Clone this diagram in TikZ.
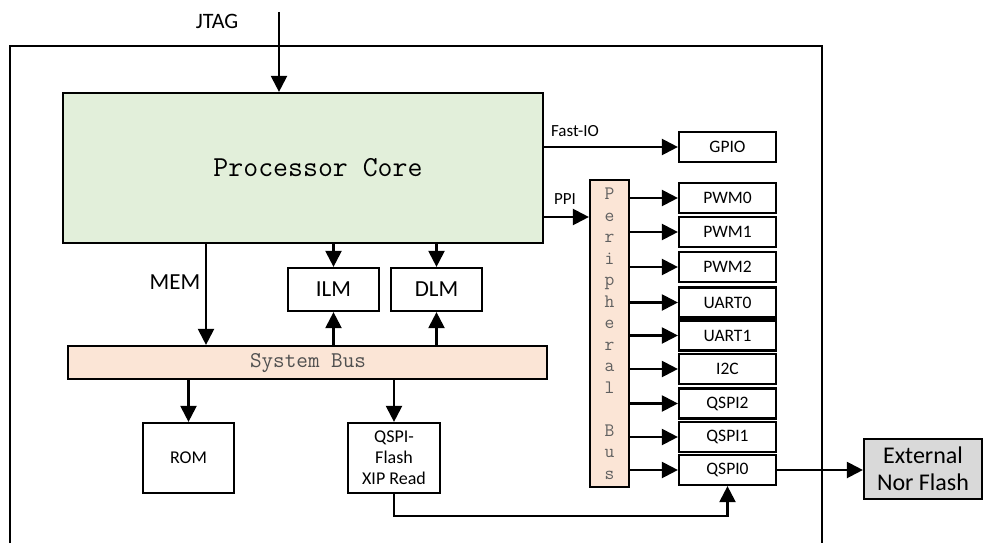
\documentclass[tikz,border=0pt]{standalone}
\usepackage{fontspec}
\setmainfont{Carlito}
\usetikzlibrary{arrows.meta}
\definecolor{coregreen}{HTML}{E2EFDA}
\definecolor{busorange}{HTML}{FBE5D6}
\definecolor{flashgray}{HTML}{D9D9D9}
\definecolor{bustext}{HTML}{505050}
\definecolor{pbtextc}{HTML}{606060}
\begin{document}
\begin{tikzpicture}[x=1pt,y=-1pt,
  box/.style={draw, line width=2.2pt, inner sep=0pt, align=center, font=\fontsize{17.5}{20}\selectfont},
  pbox/.style={box, minimum width=97pt, minimum height=30pt},
  arr/.style={-{Triangle[length=16pt,width=16pt]}, line width=2.2pt},
  lbl/.style={inner sep=0pt, font=\fontsize{17}{19}\selectfont},
  biglbl/.style={inner sep=0pt, font=\fontsize{23}{26}\selectfont}]
\useasboundingbox (0,0) rectangle (984,543);
% outer frame
\draw[line width=2.2pt] (10,543) -- (10,46) -- (822,46) -- (822,543);
% core
\node[box, fill=coregreen, minimum width=480pt, minimum height=150pt] (core) at (303,168) {};
\node[inner sep=0pt, font=\ttfamily\fontsize{29}{32}\selectfont] (coretext) at (318,168) {Processor Core};
% JTAG
\coordinate (jtagtop) at (279,12);
\node[inner sep=0pt, font=\fontsize{22}{24}\selectfont] (jtag) at (217,21) {JTAG};
\draw[arr] (jtagtop) -- (core.north -| jtagtop);
% GPIO
\node[pbox] (gpio) at (727.5,147) {GPIO};
\draw[arr] (core.east |- gpio) -- (gpio.west);
\node[lbl] (fastio) at (575,131) {Fast-IO};
% peripheral bus
\node[box, fill=busorange, minimum width=39pt, minimum height=307pt] (pbus) at (609.5,333.5) {};
\node[inner sep=0pt, align=center, text=pbtextc, font=\ttfamily\fontsize{19}{21.5}\selectfont] (pbtext) at (609.5,333.5)
  {P\\e\\r\\i\\p\\h\\e\\r\\a\\l\\[21.5pt]B\\u\\s};
\coordinate (ppiA) at (core.east |- 0,217);
\draw[arr] (ppiA) -- (pbus.west |- ppiA);
\node[lbl] (ppi) at (565,199) {PPI};
% peripherals
\node[pbox] (pwm0) at (727.5,198) {PWM0};
\node[pbox] (pwm1) at (727.5,232) {PWM1};
\node[pbox] (pwm2) at (727.5,267) {PWM2};
\node[pbox] (uart0) at (727.5,302.5) {UART0};
\node[pbox] (uart1) at (727.5,335.5) {UART1};
\node[pbox] (i2c) at (727.5,369) {I2C};
\node[pbox] (qspi2) at (727.5,403.5) {QSPI2};
\node[pbox] (qspi1) at (727.5,437) {QSPI1};
\node[pbox] (qspi0) at (727.5,470) {QSPI0};
\foreach \p in {pwm0,pwm1,pwm2,uart0,uart1,i2c,qspi2,qspi1,qspi0}
  \draw[arr] (pbus.east |- \p.west) -- (\p.west);
% external flash
\node[box, fill=flashgray, minimum width=118pt, minimum height=60pt, font=\fontsize{24}{27}\selectfont] (flash) at (923,469) {External\\Nor Flash};
\draw[arr] (qspi0.east) -- (flash.west |- qspi0.east);
% system bus
\node[box, fill=busorange, minimum width=479pt, minimum height=33pt] (sysbus) at (307.5,362.5) {};
\node[inner sep=0pt, text=bustext, font=\ttfamily\fontsize{22.5}{26}\selectfont] (sysbustext) at (308,363) {System Bus};
% ILM / DLM
\node[box, minimum width=91pt, minimum height=43pt, font=\fontsize{23}{26}\selectfont] (ilm) at (333.5,289.5) {ILM};
\node[box, minimum width=91pt, minimum height=43pt, font=\fontsize{23}{26}\selectfont] (dlm) at (436.5,289.5) {DLM};
\draw[arr] (core.south -| ilm) -- (ilm.north);
\draw[arr] (core.south -| dlm) -- (dlm.north);
\draw[arr] (sysbus.north -| ilm) -- (ilm.south);
\draw[arr] (sysbus.north -| dlm) -- (dlm.south);
% MEM
\coordinate (memx) at (206,0);
\draw[arr] (core.south -| memx) -- (sysbus.north -| memx);
\node[biglbl] (mem) at (175,282) {MEM};
% ROM / QSPI-Flash
\node[box, minimum width=91pt, minimum height=70pt, font=\fontsize{18}{20}\selectfont] (rom) at (188.5,458) {ROM};
\node[box, minimum width=92pt, minimum height=70pt, font=\fontsize{18}{21}\selectfont] (qf) at (394,458) {QSPI-\\Flash\\XIP Read};
\draw[arr] (sysbus.south -| rom) -- (rom.north);
\draw[arr] (sysbus.south -| qf) -- (qf.north);
\coordinate (xipy) at (0,516);
\draw[arr] (qf.south) -- (qf.south |- xipy) -| (qspi0.south);
\end{tikzpicture}
\end{document}
